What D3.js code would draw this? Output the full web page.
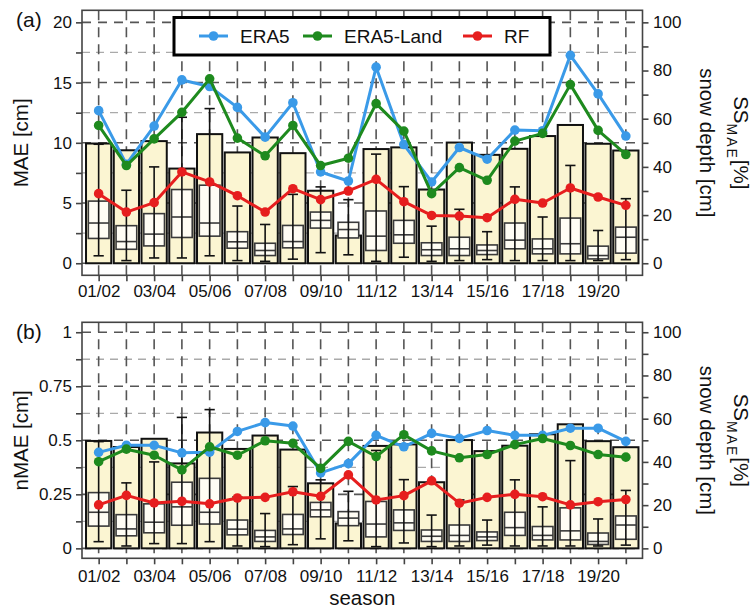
<!DOCTYPE html>
<html>
<head>
<meta charset="utf-8">
<script src="https://cdn.jsdelivr.net/npm/d3@7"></script>
<style>
  html, body { margin: 0; padding: 0; background: #fff; }
  svg { display: block; font-family: "Liberation Sans", Arial, Helvetica, sans-serif; }
</style>
</head>
<body>
<svg id="chart" width="755" height="613"></svg>
<script>
// ---------------- DATA ----------------
const seasons = ["01/02","02/03","03/04","04/05","05/06","06/07","07/08","08/09","09/10","10/11",
                 "11/12","12/13","13/14","14/15","15/16","16/17","17/18","18/19","19/20","20/21"];
const seasonTickLabels = ["01/02","03/04","05/06","07/08","09/10","11/12","13/14","15/16","17/18","19/20"];

// panel (a): MAE [cm]
const era5MAE     = [12.67, 8.22, 11.39, 15.22, 14.67, 12.94, 10.47, 13.33, 7.58, 6.83, 16.28, 9.86, 6.75, 9.61, 8.64, 11.06, 11.0, 17.26, 14.06, 10.56];
const era5LandMAE = [11.44, 8.11, 10.33, 12.53, 15.31, 10.39, 8.92, 11.44, 8.11, 8.72, 13.25, 10.97, 5.78, 7.94, 6.89, 10.14, 10.78, 14.83, 11.03, 9.03];
const rfMAE       = [5.78, 4.25, 5.03, 7.58, 6.75, 5.61, 4.25, 6.19, 5.28, 6.0, 6.97, 5.11, 3.97, 3.92, 3.78, 5.31, 5.0, 6.25, 5.5, 4.81];

// panel (b): nMAE
const era5NMAE     = [0.444, 0.477, 0.477, 0.442, 0.445, 0.541, 0.582, 0.566, 0.349, 0.392, 0.523, 0.470, 0.532, 0.509, 0.545, 0.523, 0.523, 0.556, 0.556, 0.495];
const era5LandNMAE = [0.401, 0.459, 0.431, 0.363, 0.470, 0.431, 0.498, 0.486, 0.370, 0.495, 0.425, 0.526, 0.451, 0.419, 0.434, 0.480, 0.508, 0.476, 0.434, 0.422];
const rfNMAE       = [0.201, 0.245, 0.210, 0.218, 0.206, 0.233, 0.236, 0.262, 0.241, 0.340, 0.224, 0.244, 0.3125, 0.209, 0.236, 0.250, 0.239, 0.201, 0.216, 0.226];

// snow depth [cm] (right axis): bars and box plots
const snowBar   = [49.7, 46.9, 50.7, 39.3, 53.6, 46.0, 52.2, 45.7, 30.1, 11.5, 47.4, 48.1, 30.6, 50.1, 45.0, 47.5, 52.8, 57.4, 49.6, 46.8];
const snowQ3    = [25.8, 15.6, 20.6, 30.6, 32.4, 13.1, 8.3, 15.7, 21.25, 17.0, 21.7, 17.8, 8.5, 10.8, 7.6, 16.7, 10.1, 18.75, 7.1, 15.0];
const snowMed   = [16.7, 9.0, 12.1, 19.2, 16.7, 8.9, 5.3, 9.0, 17.8, 14.0, 11.25, 11.8, 5.6, 6.0, 5.3, 9.6, 6.0, 8.1, 3.2, 10.8];
const snowQ1    = [10.3, 5.8, 7.2, 10.7, 11.25, 6.25, 3.2, 6.4, 14.6, 10.5, 5.3, 8.3, 3.2, 3.2, 3.6, 6.0, 3.9, 3.9, 1.8, 4.2];
const snowHigh  = [49.4, 30.3, 40.0, 60.6, 64.2, 23.75, 16.1, 28.6, 31.7, 26.4, 45.3, 31.8, 15.4, 22.4, 13.1, 31.7, 19.2, 40.6, 13.6, 26.8];
const snowLow   = [3.1, 1.1, 2.2, 2.2, 3.1, 1.1, 0.8, 1.7, 4.4, 3.5, 0.8, 2.5, 0.8, 1.1, 1.5, 1.1, 1.1, 1.1, 1.1, 1.5];

const seriesNames = ["ERA5", "ERA5-Land", "RF"];
const seriesColors = ["#3a9ae8", "#1e8a1e", "#e61e1e"];

// ---------------- LAYOUT ----------------
const svg = d3.select("#chart");
const plotL = 82, plotR = 642.5;
const x = d3.scaleLinear().domain([-0.6, 19.6]).range([plotL, plotR]);
const idx = d3.range(seasons.length);
const step = x(1) - x(0);
const FONT_TICK = 17, FONT_TITLE = 20.5;
const AXIS_COL = "#444";

const panels = [
  { tag: "(a)", top: 10.3, bot: 275.3, left: [-1, 21], right: [-5, 105],
    leftMajor: [0, 5, 10, 15, 20], leftMinor: [2.5, 7.5, 12.5, 17.5],
    leftFmt: d => String(d), leftTitle: "MAE [cm]",
    series: [era5MAE, era5LandMAE, rfMAE], xPad: 4, legend: true },
  { tag: "(b)", top: 322.3, bot: 558.3, left: [-0.046, 1.046], right: [-4.6, 104.6],
    leftMajor: [0, 0.25, 0.5, 0.75, 1], leftMinor: [0.125, 0.375, 0.625, 0.875],
    leftFmt: d => String(d), leftTitle: "nMAE [cm]",
    series: [era5NMAE, era5LandNMAE, rfNMAE], xPad: 6, legend: false }
];

panels.forEach(p => {
  const yL = d3.scaleLinear().domain(p.left).range([p.bot, p.top]);
  const yR = d3.scaleLinear().domain(p.right).range([p.bot, p.top]);
  const g = svg.append("g");

  // grid: light dashed at minor, dark dashed at major, vertical dashed at seasons
  g.append("g").selectAll("line").data(p.leftMinor).join("line")
    .attr("x1", plotL).attr("x2", plotR).attr("y1", d => yL(d)).attr("y2", d => yL(d))
    .attr("stroke", "#aaaaaa").attr("stroke-width", 1.3).attr("stroke-dasharray", "8,6");
  g.append("g").selectAll("line").data(p.leftMajor).join("line")
    .attr("x1", plotL).attr("x2", plotR).attr("y1", d => yL(d)).attr("y2", d => yL(d))
    .attr("stroke", "#555").attr("stroke-width", 1.6).attr("stroke-dasharray", "9,7");
  g.append("g").selectAll("line").data(idx).join("line")
    .attr("x1", d => x(d)).attr("x2", d => x(d)).attr("y1", p.top).attr("y2", p.bot)
    .attr("stroke", "#555").attr("stroke-width", 1.6).attr("stroke-dasharray", "10,7");

  // bars
  const bw = step * 0.91;
  g.append("g").selectAll("rect").data(idx).join("rect")
    .attr("x", i => x(i) - bw / 2).attr("width", bw)
    .attr("y", i => yR(snowBar[i])).attr("height", i => yR(0) - yR(snowBar[i]))
    .attr("fill", "#fbf5d2").attr("stroke", "#111").attr("stroke-width", 2);

  // boxes
  const boxW = step * 0.745;
  g.append("g").selectAll("rect").data(idx).join("rect")
    .attr("x", i => x(i) - boxW / 2).attr("width", boxW)
    .attr("y", i => yR(snowQ3[i])).attr("height", i => yR(snowQ1[i]) - yR(snowQ3[i]))
    .attr("fill", "#fffdf4").attr("stroke", "#3a3a3a").attr("stroke-width", 1.6);
  g.append("g").selectAll("line").data(idx).join("line")
    .attr("x1", i => x(i) - boxW / 2).attr("x2", i => x(i) + boxW / 2)
    .attr("y1", i => yR(snowMed[i])).attr("y2", i => yR(snowMed[i]))
    .attr("stroke", "#3a3a3a").attr("stroke-width", 1.6);

  // whiskers
  const capW = step * 0.37;
  const wg = g.append("g").attr("stroke", "#111").attr("stroke-width", 1.6);
  wg.selectAll("line.v").data(idx).join("line").attr("class", "v")
    .attr("x1", i => x(i)).attr("x2", i => x(i))
    .attr("y1", i => yR(snowLow[i])).attr("y2", i => yR(snowHigh[i]));
  wg.selectAll("line.hi").data(idx).join("line").attr("class", "hi")
    .attr("x1", i => x(i) - capW / 2).attr("x2", i => x(i) + capW / 2)
    .attr("y1", i => yR(snowHigh[i])).attr("y2", i => yR(snowHigh[i]));
  wg.selectAll("line.lo").data(idx).join("line").attr("class", "lo")
    .attr("x1", i => x(i) - capW / 2).attr("x2", i => x(i) + capW / 2)
    .attr("y1", i => yR(snowLow[i])).attr("y2", i => yR(snowLow[i]));

  // lines + points
  p.series.forEach((vals, k) => {
    const line = d3.line().x(i => x(i)).y(i => yL(vals[i]));
    g.append("path").datum(idx).attr("d", line)
      .attr("fill", "none").attr("stroke", seriesColors[k]).attr("stroke-width", 3)
      .attr("stroke-linejoin", "round");
    g.append("g").selectAll("circle").data(idx).join("circle")
      .attr("cx", i => x(i)).attr("cy", i => yL(vals[i])).attr("r", 4.8)
      .attr("fill", seriesColors[k]);
  });

  // frame
  g.append("rect").attr("x", plotL).attr("y", p.top)
    .attr("width", plotR - plotL).attr("height", p.bot - p.top)
    .attr("fill", "none").attr("stroke", AXIS_COL).attr("stroke-width", 1.6);

  // axes
  const styleAxis = sel => {
    sel.select(".domain").remove();
    sel.selectAll(".tick line").attr("stroke", AXIS_COL).attr("stroke-width", 1.6);
    sel.selectAll(".tick text").attr("fill", "#111").style("font-size", FONT_TICK + "px")
      .style("font-family", "'Liberation Sans', Arial, sans-serif");
  };
  g.append("g").attr("transform", `translate(${plotL},0)`)
    .call(d3.axisLeft(yL).tickValues(p.leftMajor).tickFormat(p.leftFmt).tickSize(6).tickPadding(4))
    .call(styleAxis);
  g.append("g").attr("transform", `translate(${plotL},0)`)
    .call(d3.axisLeft(yL).tickValues(p.leftMinor).tickFormat("").tickSize(6))
    .call(styleAxis);
  g.append("g").attr("transform", `translate(${plotR},0)`)
    .call(d3.axisRight(yR).tickValues([0, 20, 40, 60, 80, 100]).tickSize(6).tickPadding(4.5))
    .call(styleAxis);
  g.append("g").attr("transform", `translate(${plotR},0)`)
    .call(d3.axisRight(yR).tickValues([10, 30, 50, 70, 90]).tickFormat("").tickSize(6))
    .call(styleAxis);
  g.append("g").attr("transform", `translate(0,${p.bot})`)
    .call(d3.axisBottom(x).tickValues(idx)
      .tickFormat(i => seasonTickLabels.includes(seasons[i]) ? seasons[i] : "")
      .tickSize(6).tickPadding(p.xPad))
    .call(styleAxis);

  // titles
  const midY = (yL(0) + yL(p.leftMajor[p.leftMajor.length - 1])) / 2;
  g.append("text").attr("transform", `translate(28,${midY}) rotate(-90)`)
    .attr("text-anchor", "middle").style("font-size", FONT_TITLE + "px").attr("fill", "#111")
    .text(p.leftTitle);
  g.append("text").attr("transform", `translate(700,${midY}) rotate(90)`)
    .attr("text-anchor", "middle").style("font-size", FONT_TITLE + "px").attr("fill", "#111")
    .text("snow depth [cm]");
  const ss = g.append("text").attr("transform", `translate(734,${midY}) rotate(90)`)
    .attr("text-anchor", "middle").style("font-size", "20.5px").attr("fill", "#111");
  ss.append("tspan").text("SS");
  ss.append("tspan").attr("dy", 7).style("font-size", "14px").style("letter-spacing", "2px").text("MAE");
  ss.append("tspan").attr("dy", -7).text("[%]");

  g.append("text").attr("x", 16).attr("y", p.top + 17)
    .style("font-size", "21px").attr("fill", "#111").text(p.tag);

  // legend
  if (p.legend) {
    const lg = g.append("g");
    lg.append("rect").attr("x", 174).attr("y", 17.5).attr("width", 376).attr("height", 37.5)
      .attr("fill", "#fff").attr("stroke", "#000").attr("stroke-width", 3);
    const lx = [199, 303, 463];
    seriesNames.forEach((name, k) => {
      lg.append("line").attr("x1", lx[k]).attr("x2", lx[k] + 29).attr("y1", 36).attr("y2", 36)
        .attr("stroke", seriesColors[k]).attr("stroke-width", 3);
      lg.append("circle").attr("cx", lx[k] + 14.5).attr("cy", 36).attr("r", 4.8).attr("fill", seriesColors[k]);
      lg.append("text").attr("x", lx[k] + 41).attr("y", 36).attr("dy", "0.36em")
        .style("font-size", "19px").attr("fill", "#111").text(name);
    });
  }
});

// x-axis title
svg.append("text").attr("x", (plotL + plotR) / 2).attr("y", 605)
  .attr("text-anchor", "middle").style("font-size", FONT_TITLE + "px").attr("fill", "#111")
  .text("season");
</script>
</body>
</html>
